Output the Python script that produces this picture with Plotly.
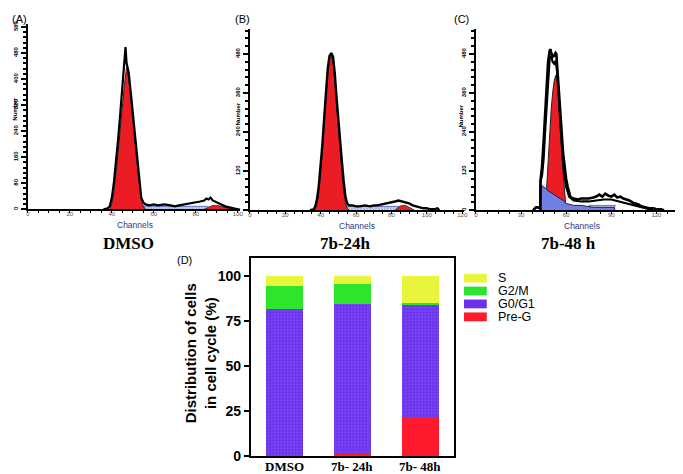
import plotly.graph_objects as go

# ---------------- DATA ----------------
# Panel A (DMSO) histogram
a_out_ch = [36, 38, 39, 40, 41, 42, 43, 44, 45, 46, 46.5, 47, 47.5, 48, 49, 50, 51, 52, 53, 54, 55, 56, 58, 60, 62, 65, 68, 70, 72, 75, 78, 80, 82, 84, 85, 86, 87, 88, 89, 90, 92, 94, 96, 98, 100]
a_out_cnt = [0, 3, 9, 36, 84, 144, 216, 294, 375, 456, 498, 450, 432, 420, 360, 294, 222, 150, 84, 36, 21, 15, 12, 15, 12, 15, 12, 9, 12, 15, 18, 21, 24, 27, 33, 30, 36, 27, 24, 21, 15, 9, 6, 3, 0]
a_g1_ch = [39, 40, 41, 42, 43, 44, 45, 46, 47, 47.5, 48, 49, 50, 51, 52, 53, 54, 55, 56]
a_g1_cnt = [0, 18, 54, 108, 174, 246, 318, 384, 435, 429, 402, 342, 276, 204, 138, 75, 30, 9, 0]
a_s_ch = [48, 86]
a_s_cnt = [9, 9]
a_g2_ch = [84, 86, 88, 90, 92, 94, 96, 98]
a_g2_cnt = [0, 6, 12, 12, 9, 6, 3, 0]

# Panel B (7b-24h) histogram
b_out_ch = [34, 36, 37, 38, 39, 40, 41, 42, 43, 44, 45, 46, 47, 48, 49, 50, 51, 52, 53, 54, 55, 56, 58, 60, 62, 65, 68, 70, 72, 75, 78, 80, 82, 84, 86, 88, 90, 92, 94, 96, 98, 100, 102, 104, 106, 107]
b_out_cnt = [0, 3, 12, 36, 78, 135, 204, 285, 366, 435, 474, 483, 471, 420, 345, 270, 204, 150, 90, 42, 21, 15, 15, 12, 12, 15, 12, 15, 15, 18, 21, 24, 27, 30, 27, 24, 21, 15, 12, 9, 6, 6, 3, 3, 6, 0]
b_g1_ch = [36, 37, 38, 39, 40, 41, 42, 43, 44, 45, 46, 47, 48, 49, 50, 51, 52, 53, 54, 55, 56]
b_g1_cnt = [0, 6, 24, 60, 114, 180, 264, 345, 420, 462, 474, 456, 402, 324, 246, 174, 114, 60, 24, 6, 0]
b_s_ch = [52, 85]
b_s_cnt = [12, 12]
b_g2_ch = [82, 84, 86, 88, 90, 92, 93]
b_g2_cnt = [0, 9, 15, 15, 9, 3, 0]

# Panel C (7b-48 h) histogram
c_out_ch = [38, 39, 40, 41, 42, 42.8, 43, 44, 45, 46, 47, 48, 49, 49.5, 50, 51, 52, 53, 53.5, 54, 55, 56, 57, 58, 59, 60, 61, 62, 63, 65, 68, 70, 72, 75, 78, 80, 82, 84, 86, 88, 90, 92, 94, 96, 98, 100, 102, 104, 106, 108, 110, 112, 115, 118, 120, 123, 125]
c_out_cnt = [0, 6, 9, 9, 6, 6, 93, 135, 210, 300, 390, 456, 489, 495, 486, 471, 474, 483, 480, 450, 384, 315, 240, 174, 126, 96, 72, 51, 39, 36, 33, 36, 36, 36, 39, 42, 48, 42, 51, 45, 42, 48, 39, 42, 36, 33, 30, 24, 21, 18, 12, 9, 6, 6, 3, 3, 0]
c_fit_ch = [42.8, 43, 44, 45, 46, 47, 48, 49, 50, 51, 52, 53, 54, 55, 56, 57, 58, 59, 60, 62, 65, 70, 75, 80, 85, 90, 95, 100, 105, 110, 115, 118]
c_fit_cnt = [0, 90, 108, 156, 240, 330, 414, 465, 474, 456, 450, 459, 426, 354, 276, 204, 144, 102, 72, 42, 30, 27, 27, 30, 33, 33, 27, 21, 15, 9, 3, 0]
c_g1_ch = [47, 48, 49, 50, 51, 52, 53, 53.8, 54.5, 55, 56, 57, 58, 59, 59.5, 60]
c_g1_cnt = [66, 156, 234, 306, 360, 396, 414, 417, 375, 324, 252, 174, 105, 42, 27, 0]
c_pre_ch = [42.8, 42.9, 44, 46, 48, 50, 52, 54, 56, 58, 60, 62, 65, 70, 75, 78, 85, 92, 92.1]
c_pre_cnt = [0, 78, 75, 69, 60, 54, 48, 42, 36, 30, 21, 18, 15, 15, 12, 9, 9, 9, 0]
c_s_ch = [75, 93]
c_s_cnt = [15, 15]

# Panel D stacked bars
groups = ["DMSO", "7b- 24h", "7b- 48h"]
pre_g = [0.0, 1.5, 21.4]
g0_g1 = [81.7, 83.3, 62.8]
g2_m = [12.7, 10.8, 1.1]
s_phase = [5.6, 4.4, 14.7]
legend_labels = ["S", "G2/M", "G0/G1", "Pre-G"]

# ---------------- STYLE ----------------
W, H = 683, 474
RED = "#ec1c24"
BLUE = "#6f7fe6"
HATCH = "#9fb0e6"
C_S = "#e9f53c"
C_G2 = "#2de52d"
C_G1 = "#6a30ec"
C_PRE = "#ff1a2e"


def fx(p):
    return p / W


def fy(p):
    return 1 - p / H


fig = go.Figure()


def fill_trace(x, y, xa, ya, color, line_color=None, lw=0.8, pattern=None):
    kw = {}
    if pattern:
        kw["fillpattern"] = pattern
    fig.add_trace(go.Scatter(x=x, y=y, xaxis=xa, yaxis=ya, mode="lines", fill="tozeroy",
                             fillcolor=color, line=dict(color=line_color or color, width=lw),
                             hoverinfo="skip", showlegend=False, **kw))


def line_trace(x, y, xa, ya, lw=2):
    fig.add_trace(go.Scatter(x=x, y=y, xaxis=xa, yaxis=ya, mode="lines",
                             line=dict(color="black", width=lw), hoverinfo="skip", showlegend=False))


hatch = dict(shape="|", fgcolor="white", bgcolor=HATCH, size=3, solidity=0.45)

# A
fill_trace(a_s_ch, a_s_cnt, "x", "y", HATCH, "#4a5aa8", 0.8, hatch)
fill_trace(a_g2_ch, a_g2_cnt, "x", "y", RED, "#222", 0.8)
fill_trace(a_g1_ch, a_g1_cnt, "x", "y", RED, "#222", 1)
line_trace(a_out_ch, a_out_cnt, "x", "y", 2.2)
# B
fill_trace(b_s_ch, b_s_cnt, "x2", "y2", HATCH, "#4a5aa8", 0.8, hatch)
fill_trace(b_g2_ch, b_g2_cnt, "x2", "y2", RED, "#222", 0.8)
fill_trace(b_g1_ch, b_g1_cnt, "x2", "y2", RED, "#222", 1)
line_trace(b_out_ch, b_out_cnt, "x2", "y2", 2.4)
# C
fill_trace(c_s_ch, c_s_cnt, "x3", "y3", HATCH, "#4a5aa8", 0.8, hatch)
fill_trace(c_g1_ch, c_g1_cnt, "x3", "y3", RED, "#222", 1)
fill_trace(c_pre_ch, c_pre_cnt, "x3", "y3", BLUE, "#222", 1)
line_trace(c_fit_ch, c_fit_cnt, "x3", "y3", 2.2)
line_trace(c_out_ch, c_out_cnt, "x3", "y3", 2.6)

# D bars
for name, vals, col, pat in [
    ("Pre-G", pre_g, C_PRE, None),
    ("G0/G1", g0_g1, C_G1, dict(shape="+", fgcolor="#8f72ff", bgcolor=C_G1, size=3.2, solidity=0.35)),
    ("G2/M", g2_m, C_G2, None),
    ("S", s_phase, C_S, None),
]:
    m = dict(color=col, line=dict(width=0))
    if pat:
        m["pattern"] = pat
    fig.add_trace(go.Bar(x=groups, y=vals, name=name, marker=m, width=0.55,
                         xaxis="x4", yaxis="y4", showlegend=False))

hx = dict(showline=True, linecolor="black", linewidth=1.5, ticks="outside", ticklen=2,
          tickwidth=1, tickcolor="black", showgrid=False, zeroline=False, ticklabelstandoff=-4,
          tickfont=dict(size=6, color="#555", family="Arial"))
hy = dict(showline=True, linecolor="black", linewidth=2, ticks="outside", ticklen=5,
          tickwidth=2, tickcolor="black", showgrid=False, zeroline=False, tickangle=-90,
          tickfont=dict(size=6, color="black", family="Arial", weight="bold"))

fig.update_layout(
    width=W, height=H, margin=dict(l=0, r=0, t=0, b=0),
    paper_bgcolor="white", plot_bgcolor="white", barmode="stack", bargap=0.45,
    xaxis=dict(hx, domain=[fx(18), fx(232)], range=[0, 101], anchor="y", dtick=20,
               minor=dict(ticks="outside", ticklen=2, dtick=5, tickcolor="black")),
    yaxis=dict(hy, domain=[fy(203), fy(13)], range=[0, 570], anchor="x", dtick=80,
               minor=dict(ticks="outside", ticklen=3, dtick=16, tickcolor="black")),
    xaxis2=dict(hx, domain=[fx(242), fx(458)], range=[0, 121], anchor="y2", dtick=20,
                minor=dict(ticks="outside", ticklen=2, dtick=5, tickcolor="black")),
    yaxis2=dict(hy, domain=[fy(204), fy(18)], range=[0, 558], anchor="x2", dtick=120,
                minor=dict(ticks="outside", ticklen=3, dtick=24, tickcolor="black")),
    xaxis3=dict(hx, domain=[fx(470), fx(681)], range=[0, 139], anchor="y3", dtick=30,
                minor=dict(ticks="outside", ticklen=2, dtick=7.5, tickcolor="black")),
    yaxis3=dict(hy, domain=[fy(204), fy(18)], range=[0, 558], anchor="x3", dtick=120,
                minor=dict(ticks="outside", ticklen=3, dtick=24, tickcolor="black")),
    xaxis4=dict(domain=[fx(243), fx(448)], range=[-0.5, 2.5], anchor="y4", type="category",
                showline=True, mirror=True, linecolor="black", linewidth=2, ticks="",
                showgrid=False, zeroline=False, showticklabels=False),
    yaxis4=dict(domain=[fy(456), fy(253)], range=[0, 110], anchor="x4",
                tickvals=[0, 25, 50, 75, 100], showline=True, mirror=True, linecolor="black",
                linewidth=2, ticks="outside", ticklen=5, tickwidth=2, tickcolor="black",
                showgrid=False, zeroline=False,
                tickfont=dict(size=14, color="black", family="Arial", weight="bold")),
)

ann = []


def text(x, y, s, size, family="Arial", color="black", bold=False, angle=0, xanchor="center"):
    ann.append(dict(x=fx(x), y=fy(y), xref="paper", yref="paper", text=s, showarrow=False,
                    xanchor=xanchor, yanchor="middle", textangle=angle,
                    font=dict(size=size, family=family, color=color,
                              weight="bold" if bold else "normal")))


text(0, 8, "(A)", 11, xanchor="left")
text(225, 8, "(B)", 11, xanchor="left")
text(446, 8, "(C)", 11, xanchor="left")
text(166, 255, "(D)", 11, xanchor="left")
for cx, cy in [(126, 219), (350, 220), (577, 220)]:
    text(cx, cy, "Channels", 8.5, color="#2a3a88")
for cx, cy in [(5, 100), (230, 105), (455, 108)]:
    text(cx, cy, "Number", 6, bold=True, angle=-90)
text(120, 238, "DMSO", 17, family="Liberation Serif", bold=True)
text(338, 238, "7b-24h", 17, family="Liberation Serif", bold=True)
text(563, 238, "7b-48 h", 17, family="Liberation Serif", bold=True)
text(182, 350, "Distribution of cells", 15, bold=True, angle=-90)
text(203, 350, "in cell cycle (%)", 15, bold=True, angle=-90)

# category labels for the bar panel, placed on the category axis
for g in groups:
    ann.append(dict(x=g, y=fy(466), xref="x4", yref="paper", text=g, showarrow=False,
                    xanchor="center", yanchor="middle",
                    font=dict(size=13, family="Liberation Serif", color="black", weight="bold")))

shapes = []
leg_cols = [C_S, C_G2, C_G1, C_PRE]
for i, (lab, col) in enumerate(zip(legend_labels, leg_cols)):
    yc = 273.5 + 13.2 * i
    shapes.append(dict(type="rect", xref="paper", yref="paper", x0=fx(458), x1=fx(481),
                       y0=fy(yc + 4.5), y1=fy(yc - 4.5), fillcolor=col, line=dict(width=0)))
    ann.append(dict(x=fx(491), y=fy(yc), xref="paper", yref="paper", text=lab, showarrow=False,
                    xanchor="left", yanchor="middle", borderpad=0,
                    font=dict(size=12.5, family="Arial", color="black")))

fig.update_layout(annotations=ann, shapes=shapes)
fig.write_html("out.html")
